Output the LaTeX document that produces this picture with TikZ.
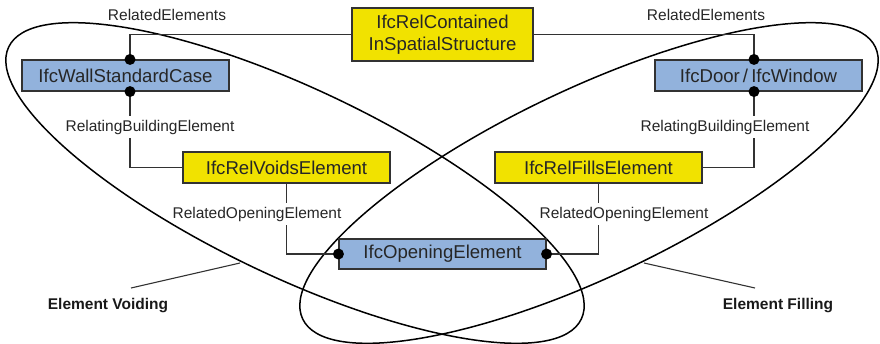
\documentclass[tikz,border=0pt]{standalone}
\usepackage{fontspec}
\setmainfont{Liberation Sans}
\definecolor{relyellow}{RGB}{241,226,0}
\definecolor{entblue}{RGB}{146,178,220}
\definecolor{linegray}{RGB}{50,50,50}
\begin{document}
\begin{tikzpicture}[x=1pt, y=-1pt,
          entity/.style={draw=linegray, line width=1.1pt, fill=entblue, text=black!85,
                         minimum width=207pt, minimum height=31pt, inner sep=0pt,
                         font=\fontsize{18.6}{21.5}\selectfont},
          relation/.style={entity, fill=relyellow},
          role/.style={inner sep=4pt, text=black!85, font=\fontsize{15.5}{18}\selectfont},
          conn/.style={draw=linegray, line width=1.1pt},
          dot/.style={circle, fill=black, inner sep=0pt, minimum size=11pt},
          setloop/.style={draw=black, line width=1.5pt},
          setname/.style={text=black!90, font=\bfseries\fontsize{15.5}{18}\selectfont}]
          \useasboundingbox (0,0) rectangle (880,343);
          % the two sets, drawn first
          \draw[setloop, rotate around={-25.4:(295,183)}] (295,183) ellipse [x radius=317, y radius=94];
          \draw[setloop, rotate around={25.4:(589,183)}] (589,183) ellipse [x radius=317, y radius=94];
          % entities and relations
          \node[relation, minimum width=181pt, minimum height=53pt, align=center] (spatial) at (442.5,34.5) {IfcRelContained\\InSpatialStructure};
          \node[entity] (wall) at (125.5,75.5) {IfcWallStandardCase};
          \node[entity] (door) at (758.5,75.5) {IfcDoor\,/\,IfcWindow};
          \node[relation] (voids) at (286.5,167.5) {IfcRelVoidsElement};
          \node[relation] (fills) at (598.5,167.5) {IfcRelFillsElement};
          \node[entity, minimum height=30pt] (opening) at (442.5,254) {IfcOpeningElement};
          % role names
          \node[role] (relL) at (167,15) {RelatedElements};
          \node[role] (relR) at (706,15) {RelatedElements};
          \node[role] (rbeL) at (150,127) {RelatingBuildingElement};
          \node[role] (rbeR) at (725,127) {RelatingBuildingElement};
          \node[role] (roeL) at (257,214) {RelatedOpeningElement};
          \node[role] (roeR) at (624,214) {RelatedOpeningElement};
          % attachment points
          \coordinate (wallTop) at ([xshift=4.5pt]wall.north);
          \coordinate (wallFoot) at ([xshift=4.5pt]wall.south);
          \coordinate (doorTop) at ([xshift=-4.5pt]door.north);
          \coordinate (doorFoot) at ([xshift=-4.5pt]door.south);
          % connectors
          \draw[conn] (spatial.west) -| (wallTop);
          \draw[conn] (spatial.east) -| (doorTop);
          \draw[conn] (wallFoot) -- (wallFoot |- rbeL.north);
          \draw[conn] (wallFoot |- rbeL.south) |- (voids.west);
          \draw[conn] (doorFoot) -- (doorFoot |- rbeR.north);
          \draw[conn] (doorFoot |- rbeR.south) |- (fills.east);
          \draw[conn] (voids.south) -- (voids.south |- roeL.north);
          \draw[conn] (voids.south |- roeL.south) |- (opening.west);
          \draw[conn] (fills.south) -- (fills.south |- roeR.north);
          \draw[conn] (fills.south |- roeR.south) |- (opening.east);
          \foreach \p in {wallTop, wallFoot, doorTop, doorFoot, opening.west, opening.east}
            \node[dot] at (\p) {};
          % set names with leaders
          \node[setname] (voiding) at (108,306) {Element Voiding};
          \node[setname] (filling) at (778,306) {Element Filling};
          \coordinate (voidFoot) at (131,288);
          \coordinate (voidTip) at (240,263);
          \coordinate (fillFoot) at (755,288);
          \coordinate (fillTip) at (644,263);
          \draw[conn] (voidFoot) -- (voidTip);
          \draw[conn] (fillFoot) -- (fillTip);
        \end{tikzpicture}
\end{document}
